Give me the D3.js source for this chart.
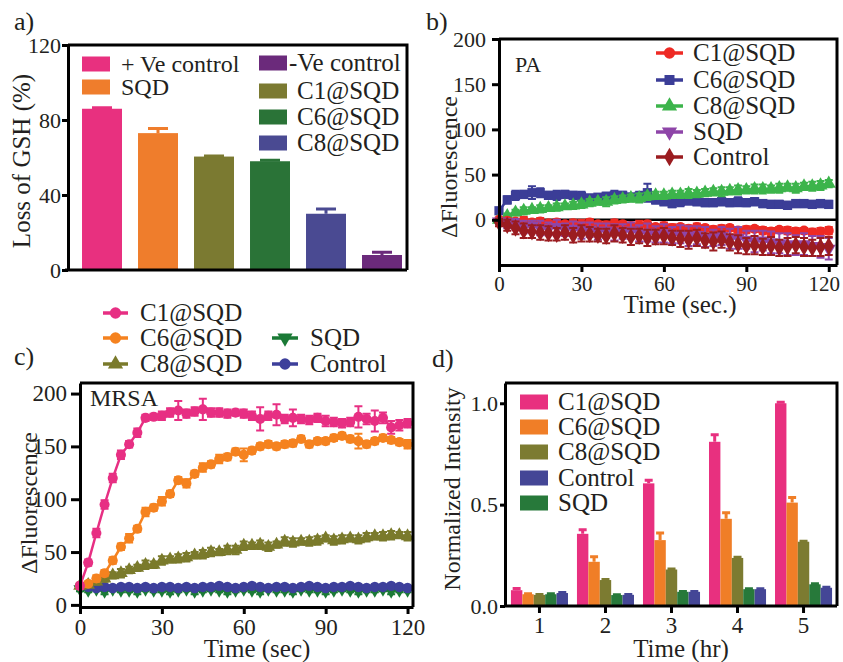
<!DOCTYPE html>
<html>
<head>
<meta charset="utf-8">
<script src="https://cdnjs.cloudflare.com/ajax/libs/d3/7.8.5/d3.min.js"></script>
<style>
  body { margin: 0; background: #fff; }
  svg { display: block; }
</style>
</head>
<body>
<div id="chart"></div>
<script>
// ---- a) loss of GSH ----
const gshGroups = ['+ Ve control', 'SQD', 'C1@SQD', 'C6@SQD', 'C8@SQD', '-Ve control'];
const gshLoss = [86, 73, 60.5, 58, 30, 8];
const gshErr = [0.5, 2.5, 0.3, 0.5, 2.5, 1.5];
const gshColors = ['#e8307f', '#ef7d2c', '#7b7a31', '#2a7337', '#4a4a92', '#6b2a7b'];

// ---- b) PA, c) MRSA time courses ----
const time = [0, 3, 6, 9, 12, 15, 18, 21, 24, 27, 30, 33, 36, 39, 42, 45, 48, 51, 54, 57, 60,
  63, 66, 69, 72, 75, 78, 81, 84, 87, 90, 93, 96, 99, 102, 105, 108, 111, 114, 117, 120];

const paC1 = [0, -1, -2, -1, -3, -2, -4, -3, -5, -4, -5, -3, -5, -6, -4, -5, -7, -6, -5, -8, -7,
  -9, -8, -10, -8, -9, -11, -10, -9, -12, -11, -10, -12, -13, -11, -12, -13, -12, -14, -13, -12];
const paC6 = [10, 22, 27, 28, 30, 30, 27, 27, 28, 27, 26, 24, 25, 26, 27, 27, 25, 26, 30, 22, 20,
  18, 20, 21, 20, 19, 19, 20, 19, 20, 19, 20, 18, 17, 17, 16, 18, 18, 17, 18, 17];
const paC8 = [0, 4, 8, 10, 11, 12, 13, 14, 15, 16, 17, 19, 20, 20, 22, 23, 24, 24, 26, 27, 27,
  28, 28, 29, 29, 30, 31, 31, 32, 33, 33, 34, 34, 34, 35, 36, 35, 37, 37, 38, 40];
const paSQD = [-2, -4, -5, -8, -7, -9, -10, -8, -11, -10, -12, -11, -13, -12, -14, -13, -12, -15, -14, -16, -15,
  -17, -16, -18, -17, -19, -20, -18, -21, -20, -22, -24, -23, -25, -26, -27, -28, -27, -29, -30, -32];
const paCtrl = [-3, -6, -9, -12, -13, -14, -15, -16, -14, -17, -15, -16, -17, -18, -15, -17, -19, -18, -20, -19, -18,
  -20, -21, -22, -20, -23, -24, -22, -25, -27, -29, -28, -30, -29, -31, -30, -28, -30, -31, -30, -29];
const paC1Err = [2, 3, 3, 4, 3, 4, 3, 4, 3, 4, 5, 4, 3, 4, 4, 3, 4, 5, 4, 3, 4,
  4, 3, 4, 4, 3, 4, 4, 3, 4, 4, 3, 4, 4, 3, 4, 4, 3, 4, 4, 4];
const paC6Err = [3, 4, 5, 4, 7, 5, 4, 5, 4, 4, 5, 4, 3, 4, 5, 4, 4, 5, 10, 4, 4,
  4, 5, 4, 4, 4, 4, 4, 4, 5, 4, 4, 4, 4, 4, 4, 4, 4, 4, 4, 4];
const paC8Err = [2, 3, 3, 4, 3, 4, 3, 4, 3, 4, 4, 4, 3, 5, 4, 4, 4, 5, 4, 4, 4,
  4, 4, 5, 4, 4, 4, 5, 4, 5, 4, 5, 5, 4, 5, 4, 5, 4, 5, 5, 4];
const paSQDErr = [3, 5, 6, 7, 6, 8, 7, 8, 7, 8, 9, 8, 9, 8, 9, 8, 9, 9, 10, 9, 10,
  9, 10, 11, 10, 11, 9, 10, 11, 12, 10, 12, 11, 12, 11, 12, 11, 12, 11, 12, 12];
const paCtrlErr = [4, 6, 7, 8, 7, 8, 8, 7, 8, 8, 9, 8, 7, 8, 9, 8, 9, 8, 9, 8, 9,
  8, 9, 10, 9, 8, 10, 9, 9, 10, 9, 10, 9, 10, 9, 10, 9, 10, 9, 10, 10];

const mrC1 = [18, 40, 68, 95, 120, 142, 152, 163, 177, 178, 179, 182, 184, 181, 183, 185, 182, 182, 181, 182, 181,
  179, 176, 179, 180, 176, 177, 176, 175, 177, 174, 173, 172, 173, 178, 176, 174, 177, 168, 170, 172];
const mrC6 = [18, 20, 25, 30, 42, 55, 63, 72, 88, 92, 98, 105, 118, 115, 124, 130, 133, 138, 140, 145, 142,
  146, 150, 152, 150, 152, 153, 157, 152, 155, 155, 158, 160, 157, 155, 152, 155, 158, 156, 154, 152];
const mrC8 = [18, 19, 22, 25, 28, 30, 33, 35, 38, 38, 42, 43, 44, 45, 47, 48, 50, 50, 52, 52, 56,
  56, 57, 55, 57, 60, 59, 60, 60, 61, 63, 61, 62, 63, 62, 64, 65, 65, 66, 66, 65];
const mrSQD = [15, 14, 15, 13, 15, 14, 14, 13, 15, 14, 14, 13, 14, 15, 13, 14, 15, 14, 13, 14, 15,
  14, 13, 15, 14, 14, 13, 15, 14, 14, 13, 14, 15, 14, 13, 14, 14, 15, 13, 14, 14];
const mrCtrl = [18, 17, 16, 17, 16, 17, 17, 16, 17, 16, 17, 17, 16, 17, 16, 17, 17, 18, 17, 16, 17,
  18, 17, 16, 17, 17, 16, 17, 18, 17, 16, 17, 17, 18, 17, 16, 17, 17, 18, 17, 16];
const mrC1Err = [3, 3, 4, 4, 4, 4, 3, 4, 3, 3, 4, 4, 9, 4, 4, 10, 4, 4, 4, 3, 4,
  4, 11, 4, 10, 4, 8, 4, 4, 4, 5, 4, 4, 4, 10, 5, 10, 5, 6, 5, 4];
const mrC6Err = [2, 2, 3, 3, 3, 3, 4, 3, 4, 3, 4, 3, 3, 4, 3, 4, 3, 4, 3, 3, 6,
  3, 3, 3, 3, 3, 3, 3, 3, 3, 3, 3, 3, 3, 7, 3, 3, 3, 3, 3, 4];
const mrC8Err = [2, 2, 3, 3, 3, 4, 3, 3, 4, 3, 4, 3, 4, 4, 3, 4, 4, 3, 4, 4, 4,
  3, 4, 4, 3, 4, 4, 3, 4, 4, 3, 4, 4, 3, 4, 4, 3, 4, 4, 3, 4];
const mrSQDErr = [2, 2, 2, 3, 2, 2, 2, 3, 2, 2, 2, 3, 2, 2, 3, 2, 2, 2, 3, 2, 2,
  2, 3, 2, 2, 2, 3, 2, 2, 2, 3, 2, 2, 2, 3, 2, 2, 2, 3, 2, 2];
const mrCtrlErr = [2, 2, 2, 2, 2, 2, 2, 2, 2, 2, 2, 2, 2, 2, 2, 2, 2, 2, 2, 2, 2,
  2, 2, 2, 2, 2, 2, 2, 2, 2, 2, 2, 2, 2, 2, 2, 2, 2, 2, 2, 2];

// ---- d) normalized intensity ----
const hours = ['1', '2', '3', '4', '5'];
const intSeries = ['C1@SQD', 'C6@SQD', 'C8@SQD', 'SQD', 'Control'];
const intC1 = [0.078, 0.356, 0.605, 0.81, 1.0];
const intC6 = [0.058, 0.218, 0.325, 0.43, 0.51];
const intC8 = [0.055, 0.128, 0.18, 0.237, 0.317];
const intSQD = [0.058, 0.054, 0.07, 0.083, 0.107];
const intCtrl = [0.064, 0.055, 0.07, 0.083, 0.09];
const intC1Err = [0.008, 0.02, 0.015, 0.035, 0.005];
const intC6Err = [0.003, 0.025, 0.035, 0.03, 0.025];
const intC8Err = [0.002, 0.003, 0.003, 0.003, 0.003];
const intSQDErr = [0.002, 0.002, 0.002, 0.002, 0.003];
const intCtrlErr = [0.002, 0.002, 0.002, 0.002, 0.002];

const serif = '"Liberation Serif", "Times New Roman", serif';
const ink = '#231f20';

const svg = d3.select('#chart')
    .append('svg')
    .attr('width', 843)
    .attr('height', 662)
    .style('font-family', serif);

function styleAxis(ax, size) {
    ax.selectAll('path.domain').attr('stroke', '#000').attr('stroke-width', 3);
    ax.selectAll('.tick line').attr('stroke', '#000').attr('stroke-width', 3);
    ax.selectAll('.tick text')
        .attr('fill', ink)
        .style('font-size', size + 'px')
        .style('font-family', serif);
}

function frame(b) {
    svg.append('path')
        .attr('d', `M${b.left},${b.top}H${b.right}V${b.bottom}`)
        .attr('fill', 'none')
        .attr('stroke', '#000')
        .attr('stroke-width', 3);
}

function label(x, y, txt, size, rotate) {
    const t = svg.append('text')
        .attr('fill', ink)
        .style('font-size', size + 'px')
        .text(txt);
    if (rotate) {
        t.attr('transform', `translate(${x},${y}) rotate(-90)`).attr('text-anchor', 'middle');
    } else {
        t.attr('x', x).attr('y', y);
    }
    return t;
}

// downward triangle for the SQD series
const triDown = {
    draw(ctx, size) {
        const h = Math.sqrt(size / (Math.sqrt(3) / 4));
        const r = h / Math.sqrt(3);
        ctx.moveTo(0, r);
        ctx.lineTo(h / 2, -r / 2);
        ctx.lineTo(-h / 2, -r / 2);
        ctx.closePath();
    }
};

function drawSeries(g, x, y, vals, errs, color, symbol, size) {
    const pts = time.map((t, i) => ({t, v: vals[i], e: errs[i]}));
    const s = g.append('g');
    const cap = 4;
    s.selectAll('path.err')
        .data(pts)
        .join('path')
        .attr('class', 'err')
        .attr('d', d => {
            const cx = x(d.t), lo = y(d.v - d.e), hi = y(d.v + d.e);
            return `M${cx},${lo}V${hi}M${cx - cap},${hi}H${cx + cap}M${cx - cap},${lo}H${cx + cap}`;
        })
        .attr('stroke', color)
        .attr('stroke-width', 2)
        .attr('fill', 'none');
    s.append('path')
        .datum(pts)
        .attr('d', d3.line().x(d => x(d.t)).y(d => y(d.v)))
        .attr('fill', 'none')
        .attr('stroke', color)
        .attr('stroke-width', 2.5);
    s.selectAll('path.mk')
        .data(pts)
        .join('path')
        .attr('class', 'mk')
        .attr('transform', d => `translate(${x(d.t)},${y(d.v)})`)
        .attr('d', d3.symbol(symbol, size))
        .attr('fill', color);
}

function lineLegend(items, x0, x1, tx, size) {
    items.forEach(it => {
        const g = svg.append('g');
        g.append('line')
            .attr('x1', x0).attr('x2', x1)
            .attr('y1', it.y).attr('y2', it.y)
            .attr('stroke', it.color).attr('stroke-width', 3.5);
        g.append('path')
            .attr('transform', `translate(${(x0 + x1) / 2},${it.y})`)
            .attr('d', d3.symbol(it.symbol, 100))
            .attr('fill', it.color);
        label(tx, it.y + 8, it.name, size);
    });
}

function boxLegend(items, x0, w, h, tx, size) {
    items.forEach(it => {
        svg.append('rect')
            .attr('x', x0).attr('y', it.y - h / 2)
            .attr('width', w).attr('height', h)
            .attr('fill', it.color);
        label(it.tx || tx, it.y + 8, it.name, size);
    });
}

// ================= a) =================
function panelA() {
    const b = {left: 68, top: 45, right: 407, bottom: 270};
    const x = d3.scaleBand()
        .domain(gshGroups)
        .range([66, 402])
        .paddingInner(0.286)
        .paddingOuter(0.143)
        .align(1);
    const y = d3.scaleLinear().domain([0, 120]).range([b.bottom, b.top]);
    const g = svg.append('g');

    g.selectAll('rect')
        .data(gshGroups)
        .join('rect')
        .attr('x', d => x(d))
        .attr('y', (d, i) => y(gshLoss[i]))
        .attr('width', x.bandwidth())
        .attr('height', (d, i) => b.bottom - y(gshLoss[i]))
        .attr('fill', (d, i) => gshColors[i]);

    g.selectAll('path.err')
        .data(gshGroups)
        .join('path')
        .attr('class', 'err')
        .attr('d', (d, i) => {
            const cx = x(d) + x.bandwidth() / 2;
            const top = y(gshLoss[i] + gshErr[i]);
            return `M${cx},${y(gshLoss[i])}V${top}M${cx - 10},${top}H${cx + 10}`;
        })
        .attr('stroke', (d, i) => gshColors[i])
        .attr('stroke-width', 3);

    frame(b);
    const ya = svg.append('g')
        .attr('transform', `translate(${b.left},0)`)
        .call(d3.axisLeft(y).tickValues([0, 40, 80, 120]).tickSize(6).tickSizeOuter(0).tickPadding(1));
    styleAxis(ya, 22);
    svg.append('line')
        .attr('x1', b.left - 3).attr('x2', b.right)
        .attr('y1', b.bottom).attr('y2', b.bottom)
        .attr('stroke', '#000').attr('stroke-width', 3);

    label(30, 161, 'Loss of GSH (%)', 25, true);
    label(14, 30, 'a)', 26);

    boxLegend([
        {name: '+ Ve control', color: gshColors[0], y: 64},
        {name: 'SQD', color: gshColors[1], y: 87}
    ], 82, 28, 15, 121, 24);
    boxLegend([
        {name: '-Ve control', color: gshColors[5], y: 63, tx: 289},
        {name: 'C1@SQD', color: gshColors[2], y: 91},
        {name: 'C6@SQD', color: gshColors[3], y: 117},
        {name: 'C8@SQD', color: gshColors[4], y: 143}
    ], 259, 28, 15, 297, 25);
}

// ================= b) =================
function panelB() {
    const b = {left: 499, top: 39, right: 837, bottom: 265};
    const x = d3.scaleLinear().domain([0, 123]).range([b.left, b.right]);
    const y = d3.scaleLinear().domain([-50, 200]).range([b.bottom, b.top]);
    const g = svg.append('g');

    g.append('line')
        .attr('x1', b.left).attr('x2', b.right)
        .attr('y1', y(0)).attr('y2', y(0))
        .attr('stroke', '#000').attr('stroke-width', 2.5);

    drawSeries(g, x, y, paC6, paC6Err, '#3b3d97', d3.symbolSquare, 85);
    drawSeries(g, x, y, paC8, paC8Err, '#3cb44b', d3.symbolTriangle, 85);
    drawSeries(g, x, y, paC1, paC1Err, '#ee2a24', d3.symbolCircle, 80);
    drawSeries(g, x, y, paSQD, paSQDErr, '#8e45a8', triDown, 85);
    drawSeries(g, x, y, paCtrl, paCtrlErr, '#9b1c20', d3.symbolDiamond, 90);

    frame(b);
    const ya = svg.append('g')
        .attr('transform', `translate(${b.left},0)`)
        .call(d3.axisLeft(y).tickValues([0, 50, 100, 150, 200]).tickSize(7).tickSizeOuter(0).tickPadding(6));
    styleAxis(ya, 22);
    const xa = svg.append('g')
        .attr('transform', `translate(0,${b.bottom})`)
        .call(d3.axisBottom(x).tickValues([0, 30, 60, 90, 120]).tickSize(7).tickSizeOuter(0).tickPadding(4));
    styleAxis(xa, 21);
    // keep the last tick label inside the page, as in the original
    xa.selectAll('.tick text').filter(d => d === 120).attr('dx', -5);

    label(457, 167, '\u0394Fluorescence', 24, true);
    label(680, 313, 'Time (sec.)', 25).attr('text-anchor', 'middle');
    label(515, 72, 'PA', 22);
    label(426, 30, 'b)', 26);

    lineLegend([
        {name: 'C1@SQD', color: '#ee2a24', symbol: d3.symbolCircle, y: 53},
        {name: 'C6@SQD', color: '#3b3d97', symbol: d3.symbolSquare, y: 80},
        {name: 'C8@SQD', color: '#3cb44b', symbol: d3.symbolTriangle, y: 106},
        {name: 'SQD', color: '#8e45a8', symbol: triDown, y: 132},
        {name: 'Control', color: '#9b1c20', symbol: d3.symbolDiamond, y: 157}
    ], 656, 683, 693, 25);
}

// ================= c) =================
function panelC() {
    const b = {left: 80, top: 383, right: 413, bottom: 607};
    const x = d3.scaleLinear().domain([0, 122]).range([b.left, b.right]);
    const y = d3.scaleLinear().domain([-2, 210]).range([b.bottom, b.top]);
    const g = svg.append('g');

    drawSeries(g, x, y, mrSQD, mrSQDErr, '#1b7a36', triDown, 75);
    drawSeries(g, x, y, mrCtrl, mrCtrlErr, '#3d3f9b', d3.symbolCircle, 85);
    drawSeries(g, x, y, mrC8, mrC8Err, '#7a7a2b', d3.symbolTriangle, 80);
    drawSeries(g, x, y, mrC6, mrC6Err, '#f5821f', d3.symbolCircle, 80);
    drawSeries(g, x, y, mrC1, mrC1Err, '#e72f83', d3.symbolCircle, 80);

    frame(b);
    const ya = svg.append('g')
        .attr('transform', `translate(${b.left},0)`)
        .call(d3.axisLeft(y).tickValues([0, 50, 100, 150, 200]).tickSize(9).tickSizeOuter(0).tickPadding(4));
    styleAxis(ya, 23);
    const xa = svg.append('g')
        .attr('transform', `translate(0,${b.bottom})`)
        .call(d3.axisBottom(x).tickValues([0, 30, 60, 90, 120]).tickSize(7).tickSizeOuter(0).tickPadding(5));
    styleAxis(xa, 23);

    label(37, 503, '\u0394Fluorescence', 24, true);
    label(257, 657, 'Time (sec)', 25).attr('text-anchor', 'middle');
    label(90, 406, 'MRSA', 24);
    label(14, 365, 'c)', 26);

    lineLegend([
        {name: 'C1@SQD', color: '#e72f83', symbol: d3.symbolCircle, y: 313},
        {name: 'C6@SQD', color: '#f5821f', symbol: d3.symbolCircle, y: 338},
        {name: 'C8@SQD', color: '#7a7a2b', symbol: d3.symbolTriangle, y: 364}
    ], 103, 128, 140, 25);
    lineLegend([
        {name: 'SQD', color: '#1b7a36', symbol: triDown, y: 338},
        {name: 'Control', color: '#3d3f9b', symbol: d3.symbolCircle, y: 364}
    ], 272, 298, 310, 25);
}

// ================= d) =================
function panelD() {
    const b = {left: 505, top: 383, right: 837, bottom: 606};
    const x0 = d3.scaleBand().domain(hours).range([505, 838]).paddingInner(0.136).paddingOuter(0.09);
    const x1 = d3.scaleBand().domain(intSeries).range([0, x0.bandwidth()]);
    const y = d3.scaleLinear().domain([0, 1.1]).range([b.bottom, b.top]);
    const vals = [intC1, intC6, intC8, intSQD, intCtrl];
    const errs = [intC1Err, intC6Err, intC8Err, intSQDErr, intCtrlErr];
    const colors = ['#e8307f', '#f07e27', '#7c7b31', '#27793a', '#444696'];
    const g = svg.append('g');

    intSeries.forEach((s, k) => {
        const sg = g.append('g');
        sg.selectAll('rect')
            .data(hours)
            .join('rect')
            .attr('x', h => x0(h) + x1(s))
            .attr('y', (h, i) => y(vals[k][i]))
            .attr('width', x1.bandwidth())
            .attr('height', (h, i) => b.bottom - y(vals[k][i]))
            .attr('fill', colors[k]);
        sg.selectAll('path')
            .data(hours)
            .join('path')
            .attr('d', (h, i) => {
                const cx = x0(h) + x1(s) + x1.bandwidth() / 2;
                const top = y(vals[k][i] + errs[k][i]);
                return `M${cx},${y(vals[k][i])}V${top}M${cx - 4},${top}H${cx + 4}`;
            })
            .attr('stroke', colors[k])
            .attr('stroke-width', 3);
    });

    frame(b);
    const ya = svg.append('g')
        .attr('transform', `translate(${b.left},0)`)
        .call(d3.axisLeft(y).tickValues([0, 0.5, 1.0]).tickFormat(d3.format('.1f')).tickSize(5).tickSizeOuter(0).tickPadding(2));
    styleAxis(ya, 22);
    const xa = svg.append('g')
        .attr('transform', `translate(0,${b.bottom})`)
        .call(d3.axisBottom(x0).tickSize(7).tickSizeOuter(0).tickPadding(4));
    styleAxis(xa, 23);
    xa.select('path.domain').attr('d', `M${b.left},0H${b.right}`);

    label(460, 489, 'Normalized Intensity', 24, true);
    label(681, 657, 'Time (hr)', 25).attr('text-anchor', 'middle');
    label(432, 367, 'd)', 26);

    boxLegend([
        {name: 'C1@SQD', color: colors[0], y: 402},
        {name: 'C6@SQD', color: colors[1], y: 427},
        {name: 'C8@SQD', color: colors[2], y: 452},
        {name: 'Control', color: colors[4], y: 478},
        {name: 'SQD', color: colors[3], y: 503}
    ], 520, 28, 15, 558, 25);
}

panelA();
panelB();
panelC();
panelD();
</script>
</body>
</html>
